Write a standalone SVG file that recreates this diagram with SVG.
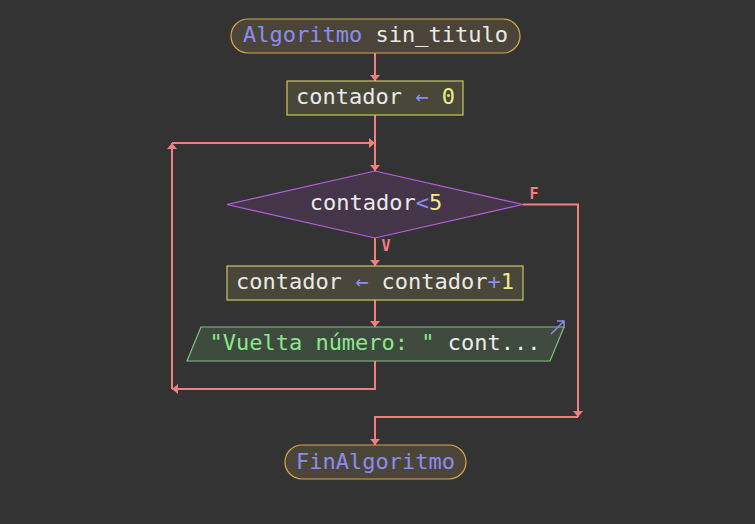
<svg xmlns="http://www.w3.org/2000/svg" width="755" height="524" viewBox="0 0 755 524">
<defs>
<marker id="ah" markerUnits="userSpaceOnUse" markerWidth="7" markerHeight="10" refX="6" refY="5" orient="auto">
<path d="M0,0 L6,5 L0,10 z" fill="#f08080"/>
</marker>
<style>
text{font-family:"DejaVu Sans Mono","Liberation Mono",monospace;font-size:22px;fill:#eaeaea;text-anchor:middle}
.kw{fill:#8c8cf0}.num{fill:#eeee88}.str{fill:#8ae88a}
.lbl{font-size:15px;font-weight:bold;fill:#f08080}
.conn{fill:none;stroke:#f08080;stroke-width:2}
.term{fill:#4a4538;stroke:#d4a94a;stroke-width:1.2}
.proc{fill:#484739;stroke:#c8c860;stroke-width:1.2}
.dec{fill:#453548;stroke:#b760e0;stroke-width:1.2}
.io{fill:#3d4a3d;stroke:#80c080;stroke-width:1.2}
</style>
</defs>
<rect width="755" height="524" fill="#333333"/>
<g id="connectors">
<path class="conn" d="M375,53 V81" marker-end="url(#ah)"/>
<path class="conn" d="M375,115 V171" marker-end="url(#ah)"/>
<path class="conn" d="M375,238 V266" marker-end="url(#ah)"/>
<path class="conn" d="M375,300 V327" marker-end="url(#ah)"/>
<path class="conn" d="M375,361 V389 H172" marker-end="url(#ah)"/>
<path class="conn" d="M172,389 V143" marker-end="url(#ah)"/>
<path class="conn" d="M172,143 H375" marker-end="url(#ah)"/>
<path class="conn" d="M523,204.5 H578 V417" marker-end="url(#ah)"/>
<path class="conn" d="M578,417 H375 V445" marker-end="url(#ah)"/>
<text class="lbl" x="534" y="199">F</text>
<text class="lbl" x="386" y="251">V</text>
</g>
<g id="start">
<rect class="term" x="231" y="19" width="289" height="34" rx="17"/>
<text x="375.5" y="42"><tspan class="kw">Algoritmo</tspan> sin_titulo</text>
</g>
<g id="assign1">
<rect class="proc" x="287" y="81" width="176" height="34"/>
<text x="375.5" y="104">contador <tspan class="kw">←</tspan> <tspan class="num">0</tspan></text>
</g>
<g id="cond">
<polygon class="dec" points="375,171 523,204.5 375,238 227,204.5"/>
<text x="376" y="210">contador<tspan class="kw">&lt;</tspan><tspan class="num">5</tspan></text>
</g>
<g id="assign2">
<rect class="proc" x="227" y="266" width="296" height="34"/>
<text x="375" y="289">contador <tspan class="kw">←</tspan> contador<tspan class="kw">+</tspan><tspan class="num">1</tspan></text>
</g>
<g id="output">
<polygon class="io" points="201,327 564,327 550,361 187,361"/>
<text x="375" y="350"><tspan class="str">"Vuelta número: "</tspan> cont...</text>
<path d="M551,334 L564,321 M557,321 H564 V328" fill="none" stroke="#8c8cf0" stroke-width="1.5"/>
</g>
<g id="end">
<rect class="term" x="285" y="445" width="181" height="34" rx="17"/>
<text x="375.5" y="469" class="kw">FinAlgoritmo</text>
</g>
</svg>
